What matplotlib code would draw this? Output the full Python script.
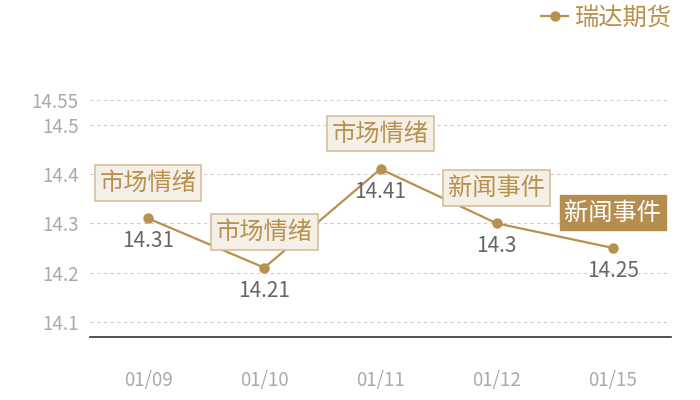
import matplotlib
matplotlib.use("Agg")
import matplotlib.pyplot as plt

plt.rcParams['font.family'] = ['Noto Sans CJK SC', 'DejaVu Sans']

dates = ["01/09", "01/10", "01/11", "01/12", "01/15"]
prices = [14.31, 14.21, 14.41, 14.30, 14.25]
value_labels = ["14.31", "14.21", "14.41", "14.3", "14.25"]
events = ["市场情绪", "市场情绪", "市场情绪", "新闻事件", "新闻事件"]
highlight = [False, False, False, False, True]
yticks = [14.1, 14.2, 14.3, 14.4, 14.5, 14.55]
series_name = "瑞达期货"

gold = "#b8914f"
fig = plt.figure(figsize=(7, 4), dpi=100)
ax = fig.add_axes([90/700, 63/400, 581/700, 237/400])

x = list(range(len(dates)))
ax.plot(x, prices, color=gold, lw=1.6, marker='o', ms=6.5, label=series_name, zorder=3)
ax.set_xlim(-0.5, len(dates) - 0.5)
ax.set_ylim(14.0695, 14.55)
ax.set_yticks(yticks)
ax.set_yticklabels([f"{v:g}" for v in yticks])
ax.set_xticks(x)
ax.set_xticklabels(dates)
ax.tick_params(axis='both', length=0, labelcolor='#aaaaaa', labelsize=13.5)
ax.tick_params(axis='x', pad=24)
ax.tick_params(axis='y', pad=8)
for s in ['top', 'right', 'left']:
    ax.spines[s].set_visible(False)
ax.spines['bottom'].set_color('#333333')
ax.spines['bottom'].set_linewidth(1.2)
ax.grid(axis='y', color='#cccccc', ls=(0, (3, 3)), lw=0.8)
ax.set_axisbelow(True)

for xi, p, vl, ev, hl in zip(x, prices, value_labels, events, highlight):
    ax.annotate(vl, (xi, p), xytext=(0, -16.5), textcoords='offset points',
                ha='center', va='center', fontsize=15, color='#666666')
    if hl:
        bb = dict(boxstyle='square,pad=0.2', fc='#b58d4e', ec='#b58d4e', lw=1)
        tc = 'white'
    else:
        bb = dict(boxstyle='square,pad=0.2', fc='#f4efe7', ec='#d6c09b', lw=1.2)
        tc = gold
    ax.annotate(ev, (xi, p), xytext=(0, 25.5), textcoords='offset points',
                ha='center', va='center', fontsize=17.5,
                color=tc, bbox=bb, zorder=4)

leg = fig.legend(loc='center right', bbox_to_anchor=(682/700, 1 - 18/400), frameon=False,
                 handlelength=1.1, handletextpad=0.3, borderaxespad=0,
                 prop={'size': 17.5})
for t in leg.get_texts():
    t.set_color(gold)

fig.savefig("out.png", dpi=100)
